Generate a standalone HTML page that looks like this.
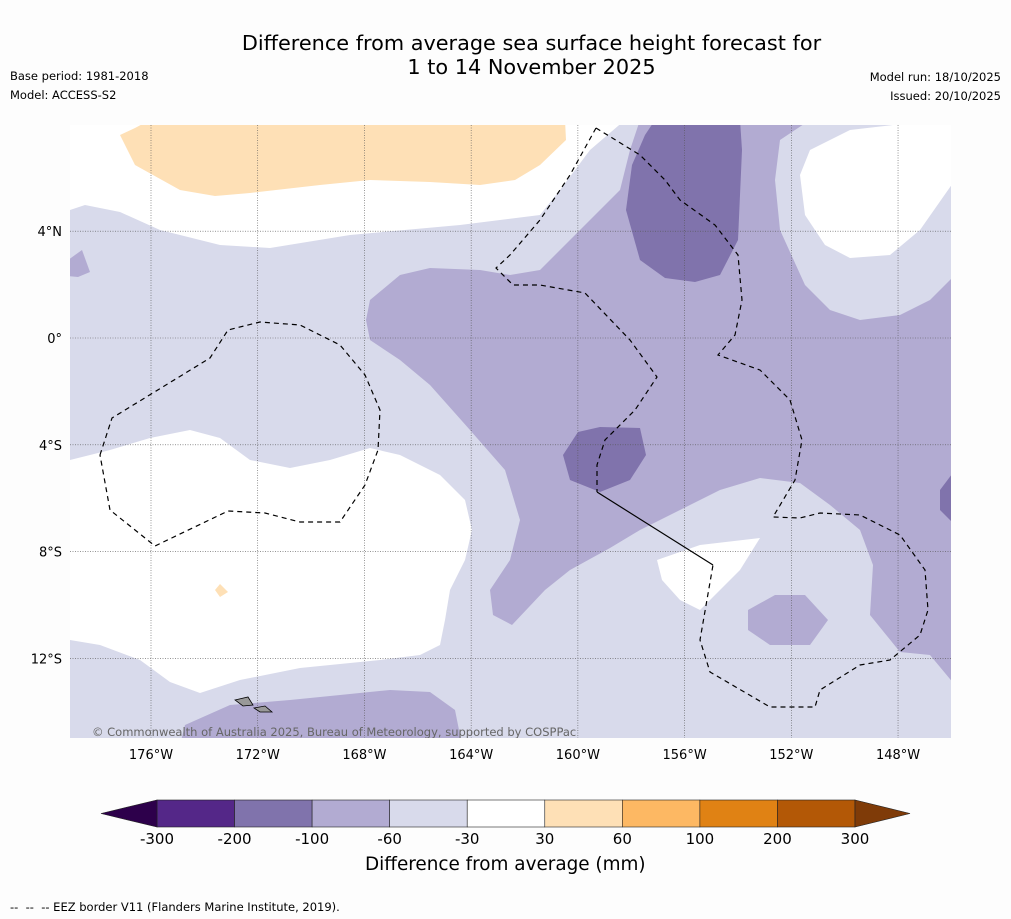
<!DOCTYPE html>
<html><head><meta charset="utf-8"><style>
body{margin:0;background:#fdfdfd;font-family:"DejaVu Sans","Liberation Sans",sans-serif;}
.t{position:absolute;white-space:nowrap;color:#000}
</style></head><body>
<div style="position:relative;width:1011px;height:919px;overflow:hidden;background:#fdfdfd">
<div class="t" style="left:0;width:1063px;top:31px;text-align:center;font-size:20.8px;line-height:24px">Difference from average sea surface height forecast for<br>1 to 14 November 2025</div>
<div class="t" style="left:10px;top:69px;font-size:11.5px">Base period: 1981-2018</div>
<div class="t" style="left:10px;top:88px;font-size:11.5px">Model: ACCESS-S2</div>
<div class="t" style="right:10px;top:70px;font-size:11.5px">Model run: 18/10/2025</div>
<div class="t" style="right:10px;top:89px;font-size:11.5px">Issued: 20/10/2025</div>
<svg id="map" width="1011" height="919" style="position:absolute;left:0;top:0"></svg>
<div class="t" style="left:365px;top:854px;font-size:18.4px">Difference from average (mm)</div>
<div class="t" style="left:10px;top:900px;font-size:11.5px">--&nbsp; --&nbsp; -- EEZ border V11 (Flanders Marine Institute, 2019).</div>
</div>
<script>
const lonTicks=[-176,-172,-168,-164,-160,-156,-152,-148];
const latTicks=[4,0,-4,-8,-12];
const levels=["-300","-200","-100","-60","-30","30","60","100","200","300"];
const levelColors=["#542788","#8073ac","#b2abd2","#d8daeb","#ffffff","#fee0b6","#fdb863","#e08214","#b35806"];
const extColors=["#2d004b","#7f3b08"];
const X=lon=>151+(lon+176)*26.68, Y=lat=>338-lat*26.7;
const L=70,R=951,T=125,B=738;
const FF='DejaVu Sans,Liberation Sans,sans-serif';
const svg=document.getElementById('map');const NS='http://www.w3.org/2000/svg';
function mk(tag,attrs,name,parent){const e=document.createElementNS(NS,tag);for(const k in attrs)e.setAttribute(k,attrs[k]);


(parent||svg).appendChild(e);return e;}
const defs=mk('defs',{},'defs');const cp=mk('clipPath',{id:'c'},'clip',defs);mk('rect',{x:L,y:T,width:R-L,height:B-T},'clip-rect',cp);
const g=mk('g',{'clip-path':'url(#c)'},'map-area');
mk('rect',{x:L,y:T,width:R-L,height:B-T,fill:'#d8daeb'},'region-lavender',g);
const shapes=[
['#ffffff','white-top',[[70,120],[625,120],[590,150],[560,190],[540,215],[460,225],[350,235],[270,248],[220,245],[160,230],[120,212],[85,205],[70,210]]],
['#ffffff','white-lower-left',[[70,460],[110,450],[150,438],[190,430],[220,438],[250,460],[290,468],[330,460],[370,448],[400,455],[440,475],[465,500],[472,530],[465,560],[450,590],[445,620],[440,645],[420,655],[380,660],[300,668],[240,680],[200,693],[170,682],[140,660],[100,645],[70,640]]],
['#fee0b6','orange-top',[[120,135],[135,128],[150,120],[565,120],[566,140],[540,165],[515,180],[480,185],[430,182],[370,180],[320,185],[250,193],[215,196],[180,190],[135,165]]],
['#b2abd2','medium-main',[[370,300],[400,275],[430,268],[480,270],[510,275],[540,270],[590,220],[620,190],[630,150],[640,120],[810,120],[780,140],[775,180],[780,230],[805,285],[830,310],[860,320],[900,315],[930,300],[955,275],[955,685],[930,655],[900,652],[870,615],[873,565],[860,530],[830,505],[800,483],[760,478],[720,490],[680,510],[640,530],[610,548],[570,570],[545,590],[512,625],[493,615],[490,590],[510,560],[520,520],[505,470],[470,430],[430,385],[400,360],[370,340],[366,320]]],
['#ffffff','white-top-right',[[810,150],[850,130],[910,123],[955,125],[955,180],[920,230],[890,255],[850,258],[825,245],[805,215],[800,175]]],
['#ffffff','white-small',[[657,560],[700,545],[760,538],[740,570],[720,590],[700,610],[680,600],[662,580]]],
['#b2abd2','medium-blob',[[748,610],[775,595],[805,595],[828,620],[810,645],[770,645],[748,630]]],
['#b2abd2','medium-bottom',[[185,725],[230,705],[290,700],[340,695],[390,690],[430,692],[455,710],[462,745],[180,745]]],
['#b2abd2','medium-left',[[68,260],[82,250],[90,272],[78,277],[68,276]]],
['#8073ac','dark-north',[[655,120],[740,120],[742,150],[738,240],[720,275],[695,282],[665,278],[640,260],[626,210],[632,165],[645,135]]],
['#8073ac','dark-south',[[563,455],[578,432],[600,427],[640,428],[646,455],[630,480],[600,492],[570,480]]],
['#8073ac','dark-east',[[940,490],[955,470],[955,525],[940,510]]],
['#fee0b6','orange-islet',[[215,590],[220,584],[228,592],[220,597]]]
];
shapes.forEach(s=>mk('polygon',{points:s[2].map(p=>p.join(',')).join(' '),fill:s[0]},s[1],g));
lonTicks.forEach(v=>mk('line',{x1:X(v),x2:X(v),y1:T,y2:B,stroke:'#555','stroke-width':0.6,'stroke-dasharray':'1,1.5'},'gridline-lon',g));
latTicks.forEach(v=>mk('line',{x1:L,x2:R,y1:Y(v),y2:Y(v),stroke:'#555','stroke-width':0.6,'stroke-dasharray':'1,1.5'},'gridline-lat',g));
const eez=[
[[100,455],[112,418],[210,358],[228,330],[260,322],[300,325],[340,345],[365,375],[380,410],[378,450],[365,485],[340,522],[300,522],[265,513],[228,511],[155,546],[110,510],[100,455]],
[[596,128],[640,155],[665,180],[680,200],[715,225],[738,255],[742,300],[735,335],[718,355],[760,370],[790,400],[802,440],[795,480],[773,517],[800,518],[820,513],[860,515],[900,535],[925,570],[928,610],[920,635],[890,660],[860,665],[820,690],[815,707],[770,707],[710,672],[700,640],[713,565]],
[[596,128],[570,175],[540,220],[510,255],[496,268],[513,285],[540,285],[585,293],[630,340],[657,377],[635,410],[605,440],[597,465],[597,492]]];
eez.forEach(p=>mk('polyline',{points:p.map(q=>q.join(',')).join(' '),fill:'none',stroke:'#000','stroke-width':1.2,'stroke-dasharray':'5,4'},'eez-border',g));
mk('line',{x1:597,y1:492,x2:713,y2:565,stroke:'#000','stroke-width':1.2},'border-solid',g);
mk('polygon',{points:'235,700 248,697 253,705 243,706',fill:'#999',stroke:'#000','stroke-width':0.8},'island',g);
mk('polygon',{points:'254,708 265,706 272,712 260,712',fill:'#999',stroke:'#000','stroke-width':0.8},'island',g);
const ct=mk('text',{x:92,y:736,'font-size':11.5,fill:'#666','font-family':FF},'copyright',g);ct.textContent='© Commonwealth of Australia 2025, Bureau of Meteorology, supported by COSPPac';
lonTicks.forEach(v=>{const t=mk('text',{x:X(v),y:759,'font-size':13,'text-anchor':'middle','font-family':FF},'x-tick-label');t.textContent=Math.abs(v)+'°W';});
latTicks.forEach(v=>{const t=mk('text',{x:62,y:Y(v)+5,'font-size':13,'text-anchor':'end','font-family':FF},'y-tick-label');t.textContent=v==0?'0°':Math.abs(v)+'°'+(v>0?'N':'S');});
const cbL=157,cbR=855,cbT=800,cbB=827,w=(cbR-cbL)/levelColors.length;
levelColors.forEach((c,i)=>mk('rect',{x:cbL+i*w,y:cbT,width:w,height:cbB-cbT,fill:c,stroke:'#222','stroke-width':0.6},'colorbar-swatch'));
mk('polygon',{points:`${cbL},${cbT} ${cbL},${cbB} 101,${(cbT+cbB)/2}`,fill:extColors[0],stroke:'#222','stroke-width':0.6},'colorbar-extend-low');
mk('polygon',{points:`${cbR},${cbT} ${cbR},${cbB} 910,${(cbT+cbB)/2}`,fill:extColors[1],stroke:'#222','stroke-width':0.6},'colorbar-extend-high');
levels.forEach((l,i)=>{const t=mk('text',{x:cbL+i*w,y:844,'font-size':15,'text-anchor':'middle','font-family':FF},'colorbar-tick-label');t.textContent=l;});
</script>
</body></html>
